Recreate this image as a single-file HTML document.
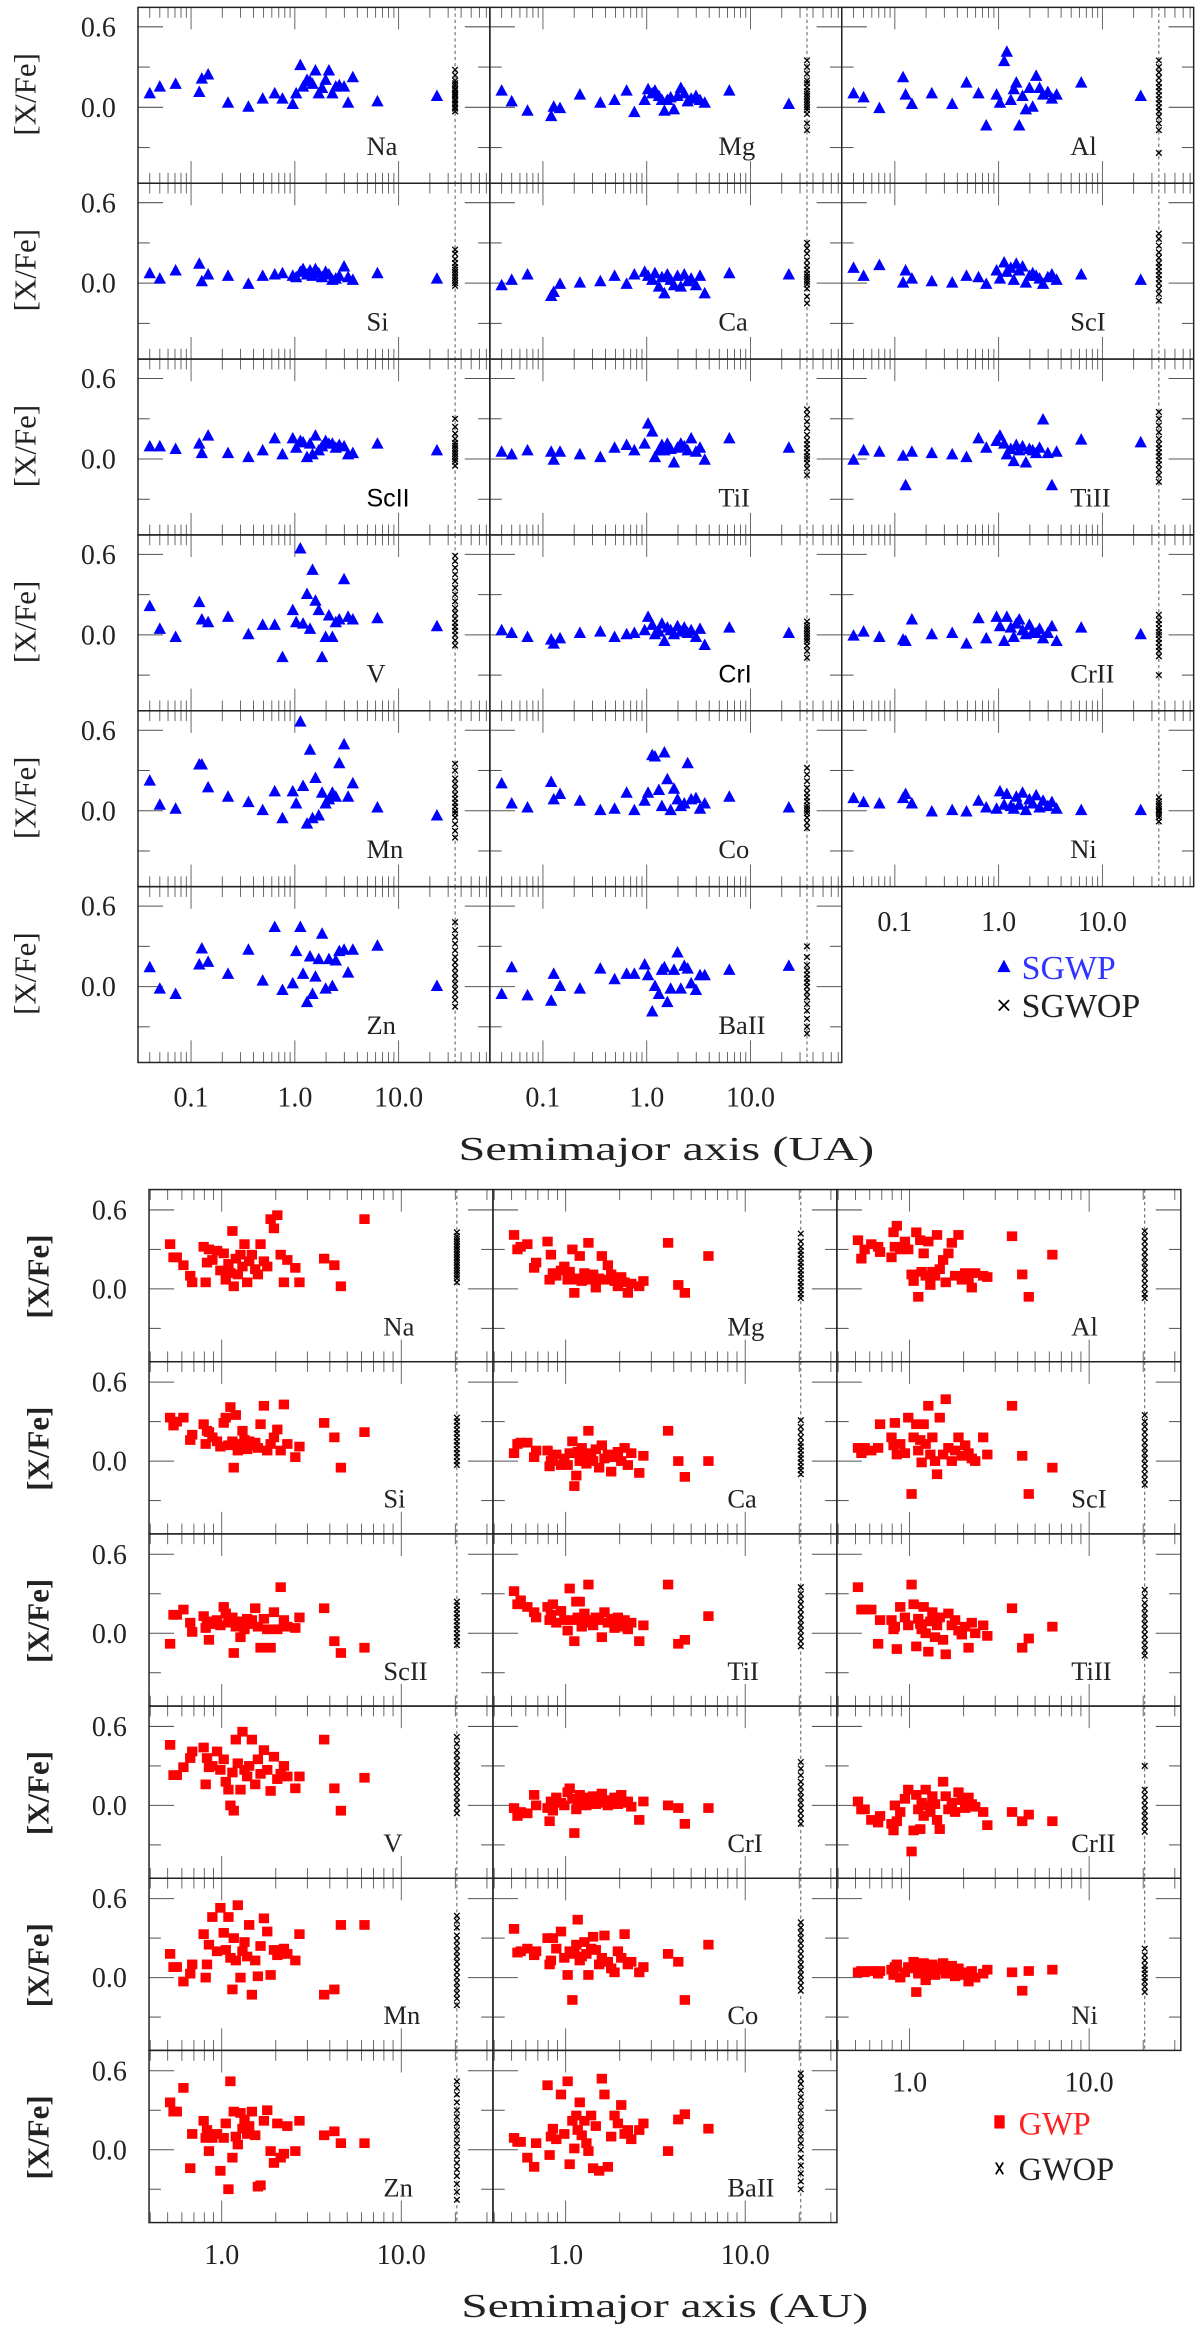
<!DOCTYPE html>
<html><head><meta charset="utf-8"><title>[X/Fe] vs semimajor axis</title>
<style>
html,body{margin:0;padding:0;background:#fff;}
svg{display:block;}
text{font-family:"Liberation Serif","DejaVu Serif",serif;fill:#222;}
</style></head>
<body>
<svg id="fig" xmlns="http://www.w3.org/2000/svg" width="1200" height="2329" viewBox="0 0 814 1580" preserveAspectRatio="none"></svg>
<script>
// ---------- TOP FIGURE DATA (SGWP / SGWOP), semimajor axis in UA ----------
const topElements = ['Na','Mg','Al','Si','Ca','ScI','ScII','TiI','TiII','V','CrI','CrII','Mn','Co','Ni','Zn','BaII'];
const topX = [0.040,0.050,0.071,0.12,0.127,0.146,0.227,0.357,0.49,0.64,0.76,0.955,1.03,1.13,1.20,1.31,1.40,1.48,1.58,1.70,1.83,1.98,2.13,2.30,2.48,2.68,2.98,3.26,3.62,6.25,23.4];
const tY_Na = [0.10,0.15,0.17,0.11,0.21,0.24,0.03,0.00,0.06,0.10,0.06,0.02,0.10,0.31,0.15,0.20,0.19,0.17,0.27,0.10,0.14,0.20,0.27,0.10,0.15,0.16,0.15,0.03,0.22,0.04,0.08];
const tY_Mg = [0.12,0.04,-0.03,-0.07,0.00,-0.01,0.09,0.03,0.05,0.12,-0.04,0.05,0.13,0.10,0.12,0.08,0.05,-0.03,0.05,0.07,-0.02,0.08,0.14,0.10,0.04,0.06,0.08,0.05,0.03,0.12,0.02];
const tY_Al = [0.10,0.07,-0.01,0.22,0.09,0.02,0.10,0.02,0.18,0.10,-0.14,0.09,0.03,0.34,0.41,0.05,0.13,0.18,-0.14,0.08,-0.02,0.14,0.00,0.23,0.14,0.09,0.11,0.06,0.09,0.18,0.08];
const tY_Si = [0.07,0.03,0.09,0.14,0.01,0.06,0.05,-0.01,0.05,0.06,0.07,0.05,0.04,0.08,0.10,0.06,0.09,0.05,0.10,0.07,0.04,0.08,0.06,0.02,0.03,0.05,0.12,0.04,0.02,0.07,0.03];
const tY_Ca = [-0.02,0.02,0.06,-0.10,-0.07,-0.01,0.00,0.01,0.05,-0.01,0.06,0.08,0.05,0.02,0.07,-0.03,0.04,-0.08,0.06,0.02,-0.02,0.05,-0.03,0.06,0.01,0.03,-0.02,0.05,-0.08,0.07,0.06];
const tY_ScI = [0.11,0.05,0.13,0.00,0.09,0.03,0.01,0.00,0.05,0.04,-0.01,0.09,0.03,0.15,0.08,0.11,0.02,0.14,0.09,0.12,0.00,0.05,0.07,0.05,0.03,-0.01,0.04,0.06,0.02,0.06,0.02];
const tY_ScII = [0.09,0.09,0.07,0.11,0.04,0.17,0.04,0.01,0.06,0.15,0.03,0.15,0.08,0.13,0.12,0.01,0.11,0.03,0.17,0.06,0.09,0.13,0.11,0.11,0.08,0.10,0.09,0.03,0.04,0.11,0.06];
const tY_TiI = [0.05,0.03,0.06,0.05,-0.01,0.05,0.03,0.01,0.08,0.10,0.06,0.11,0.26,0.20,0.01,0.06,0.10,0.06,0.11,0.07,-0.03,0.08,0.11,0.09,0.06,0.15,0.05,0.08,-0.01,0.15,0.08];
const tY_TiII = [-0.01,0.06,0.05,0.02,-0.20,0.05,0.04,0.03,0.01,0.15,0.08,0.13,0.17,0.11,0.03,0.07,-0.02,0.10,0.06,0.09,-0.03,0.07,0.06,0.04,0.08,0.29,0.04,-0.20,0.05,0.14,0.12];
const tY_V = [0.21,0.04,-0.02,0.24,0.11,0.09,0.13,0.00,0.07,0.07,-0.17,0.18,0.09,0.64,0.08,0.30,0.04,0.48,0.25,0.18,-0.17,-0.02,0.14,-0.02,0.09,0.11,0.41,0.13,0.11,0.12,0.06];
const tY_CrI = [0.03,0.01,-0.02,-0.04,-0.07,-0.03,0.01,0.02,-0.02,0.00,0.01,0.03,0.13,0.07,0.00,0.02,0.08,-0.05,0.05,0.03,0.00,0.06,0.02,0.05,0.01,0.03,-0.02,0.04,-0.08,0.05,0.01];
const tY_CrII = [-0.01,0.02,-0.02,-0.04,-0.05,0.11,0.00,0.01,-0.07,0.12,-0.03,0.13,0.06,-0.05,0.13,0.05,-0.02,0.08,0.11,0.03,0.00,0.07,0.02,0.01,0.04,-0.03,0.01,0.06,-0.05,0.05,0.00];
const tY_Mn = [0.22,0.04,0.01,0.34,0.34,0.17,0.10,0.06,0.00,0.14,-0.06,0.14,0.05,0.66,0.18,-0.10,0.45,-0.06,0.24,-0.04,0.13,0.05,0.08,0.13,0.10,0.35,0.49,0.10,0.20,0.02,-0.04];
const tY_Co = [0.20,0.05,0.02,0.21,0.08,0.12,0.07,0.00,0.01,0.13,0.00,0.07,0.13,0.41,0.40,0.15,0.03,0.43,0.23,0.00,0.16,0.08,0.03,0.05,0.35,0.08,0.09,0.01,0.05,0.10,0.02];
const tY_Ni = [0.09,0.06,0.05,0.09,0.12,0.05,-0.01,0.00,-0.01,0.07,0.02,0.01,0.14,0.04,0.12,0.03,0.01,0.10,0.04,0.13,0.00,0.08,0.05,0.11,0.02,0.07,0.03,0.06,0.01,0.00,0.00];
const tY_Zn = [0.14,-0.02,-0.06,0.16,0.28,0.18,0.09,0.27,0.04,0.44,-0.03,0.02,0.26,0.44,0.09,-0.12,0.22,-0.06,0.07,0.20,0.39,-0.02,0.20,0.00,0.19,0.26,0.27,0.10,0.27,0.30,0.00];
const tY_BaII = [-0.06,0.14,-0.07,-0.11,0.09,0.00,-0.02,0.13,0.05,0.09,0.09,0.16,0.08,-0.19,0.00,-0.06,0.12,0.14,-0.12,-0.02,0.12,0.25,-0.02,0.15,0.13,0.02,-0.03,0.08,0.08,0.12,0.15];
const topCrossA = 35;
const tC_Na=[-0.03,-0.01,0.0,0.02,0.03,0.05,0.06,0.08,0.09,0.1,0.11,0.13,0.14,0.16,0.18,0.2,0.24,0.28];
const tC_Mg=[-0.17,-0.12,-0.05,-0.02,0.0,0.02,0.04,0.06,0.08,0.1,0.12,0.15,0.18,0.2,0.25,0.3,0.35];
const tC_Al=[-0.34,-0.17,-0.12,-0.07,-0.03,0.0,0.03,0.06,0.09,0.12,0.15,0.18,0.22,0.26,0.3,0.35];
const tC_Si=[-0.02,0.0,0.02,0.04,0.06,0.08,0.1,0.12,0.15,0.18,0.22,0.25];
const tC_Ca=[-0.15,-0.1,-0.04,-0.01,0.01,0.03,0.05,0.07,0.1,0.13,0.17,0.22,0.26,0.3];
const tC_ScI=[-0.13,-0.08,-0.04,0.0,0.03,0.06,0.09,0.12,0.15,0.19,0.23,0.28,0.33,0.37];
const tC_ScII=[-0.05,-0.02,0.0,0.02,0.04,0.06,0.08,0.1,0.12,0.15,0.19,0.24,0.3];
const tC_TiI=[-0.12,-0.07,-0.03,0.0,0.02,0.05,0.08,0.11,0.14,0.18,0.23,0.28,0.33,0.37];
const tC_TiII=[-0.17,-0.12,-0.08,-0.04,-0.01,0.02,0.05,0.08,0.11,0.15,0.2,0.25,0.3,0.35];
const tC_V=[-0.08,-0.04,0.0,0.03,0.06,0.09,0.12,0.16,0.2,0.25,0.3,0.35,0.4,0.45,0.5,0.55,0.59];
const tC_CrI=[-0.17,-0.12,-0.08,-0.05,-0.03,-0.01,0.01,0.03,0.05,0.07,0.1];
const tC_CrII=[-0.3,-0.16,-0.12,-0.09,-0.06,-0.03,0.0,0.02,0.05,0.08,0.11,0.15];
const tC_Mn=[-0.2,-0.15,-0.1,-0.05,-0.02,0.0,0.03,0.06,0.09,0.12,0.16,0.2,0.24,0.3,0.35];
const tC_Co=[-0.13,-0.09,-0.05,-0.02,0.0,0.02,0.04,0.07,0.1,0.13,0.17,0.22,0.27,0.32];
const tC_Ni=[-0.08,-0.05,-0.03,-0.01,0.0,0.01,0.03,0.05,0.07,0.1];
const tC_Zn=[-0.15,-0.1,-0.06,-0.02,0.02,0.06,0.1,0.14,0.18,0.22,0.27,0.32,0.37,0.42,0.48];
const tC_BaII=[-0.35,-0.3,-0.24,-0.18,-0.13,-0.08,-0.04,0.0,0.03,0.06,0.09,0.12,0.16,0.22,0.3];
const topTickVals = [0.1, 1, 10];
const topTickLabels = ['0.1','1.0','10.0'];

// ---------- BOTTOM FIGURE DATA (GWP / GWOP), semimajor axis in AU ----------
const botX = [0.516,0.539,0.562,0.612,0.668,0.685,0.793,0.814,0.828,0.849,0.887,0.942,0.983,1.026,1.053,1.090,1.118,1.147,1.167,1.198,1.229,1.272,1.305,1.339,1.386,1.422,1.472,1.537,1.590,1.645,1.718,1.793,1.872,1.954,2.04,2.13,2.22,2.32,2.57,2.71,3.72,4.24,4.61,6.24];
const bY_Na = [0.34,0.24,0.24,0.18,0.10,0.05,0.32,0.05,0.20,0.30,0.22,0.29,0.14,0.27,0.07,0.19,0.12,0.44,0.02,0.23,0.11,0.26,0.17,0.34,0.05,0.21,0.26,0.15,0.11,0.34,0.21,0.17,0.53,0.46,0.56,0.26,0.05,0.22,0.16,0.05,0.23,0.18,0.02,0.53];
const bY_Mg = [0.41,0.30,0.32,0.34,0.16,0.20,0.36,0.07,0.26,0.12,0.10,0.14,0.17,0.07,0.13,0.30,-0.03,0.07,0.08,0.25,0.06,0.12,0.10,0.35,0.07,0.11,0.01,0.08,0.25,0.07,0.18,0.11,0.06,0.02,0.09,0.05,-0.03,0.04,0.02,0.06,0.35,0.03,-0.03,0.25];
const bY_Al = [0.37,0.23,0.30,0.34,0.32,0.28,0.24,0.43,0.32,0.48,0.30,0.36,0.30,0.11,0.06,0.43,-0.06,0.37,0.13,0.27,0.10,0.36,0.03,0.13,0.10,0.41,0.15,0.22,0.05,0.27,0.35,0.10,0.41,0.07,0.12,0.08,0.01,0.12,0.10,0.09,0.40,0.11,-0.06,0.26];
const bY_Si = [0.33,0.27,0.30,0.33,0.16,0.20,0.28,0.13,0.23,0.22,0.18,0.15,0.11,0.29,0.33,0.12,0.41,0.15,-0.05,0.35,0.08,0.13,0.23,0.16,0.09,0.15,0.12,0.14,0.10,0.28,0.42,0.08,0.13,0.18,0.24,0.08,0.43,0.13,0.03,0.11,0.29,0.18,-0.05,0.22];
const bY_Ca = [0.06,0.13,0.14,0.14,0.03,0.08,0.08,-0.04,0.00,0.03,0.05,-0.03,0.02,-0.03,0.06,0.15,-0.19,-0.11,0.07,0.00,0.10,0.04,-0.02,0.23,0.06,0.00,0.09,-0.05,0.12,0.02,0.05,-0.08,0.03,0.07,0.00,0.10,-0.03,0.06,-0.09,0.04,0.23,0.00,-0.12,0.00];
const bY_ScI = [0.10,0.06,0.10,0.08,0.10,0.28,0.18,0.12,0.29,0.05,0.13,0.06,0.33,-0.25,0.18,0.28,0.08,0.16,-0.01,0.28,0.13,0.42,0.05,0.18,0.00,-0.10,0.33,0.05,0.47,0.10,0.00,0.08,0.18,0.04,0.12,0.06,0.02,0.00,0.18,0.05,0.42,0.04,-0.25,-0.05];
const bY_ScII = [-0.08,0.14,0.14,0.18,0.08,0.01,0.13,0.04,0.09,-0.05,0.07,0.10,0.06,0.20,0.15,0.08,0.10,0.12,-0.15,0.05,0.09,-0.03,0.08,0.03,0.11,0.07,0.10,0.19,0.05,-0.11,0.11,0.03,-0.11,0.16,0.03,0.35,0.10,0.05,0.04,0.12,0.19,-0.06,-0.15,-0.11];
const bY_TiI = [0.32,0.22,0.25,0.20,0.16,0.12,0.20,0.10,0.14,0.22,0.08,0.17,0.10,0.02,0.34,0.10,-0.06,0.24,0.12,0.24,0.05,0.15,0.08,0.37,0.10,0.06,0.12,0.10,-0.03,0.16,0.08,0.11,0.04,0.12,0.05,0.10,0.03,0.08,-0.06,0.06,0.37,-0.08,-0.05,0.13];
const bY_TiII = [0.35,0.18,0.18,0.18,-0.08,0.10,0.10,0.03,0.05,-0.12,0.20,0.12,0.06,0.37,0.22,-0.10,0.11,0.07,0.03,0.20,0.00,-0.14,0.09,0.16,-0.03,0.06,0.12,-0.05,-0.16,0.15,0.06,0.10,0.02,-0.01,0.05,-0.11,0.08,0.00,0.06,-0.02,0.19,-0.11,-0.04,0.05];
const bY_V = [0.46,0.23,0.23,0.29,0.36,0.41,0.44,0.16,0.36,0.29,0.30,0.41,0.27,0.35,0.18,0.12,0.00,0.25,-0.04,0.50,0.32,0.12,0.56,0.27,0.22,0.30,0.50,0.16,0.35,0.24,0.42,0.27,0.11,0.37,0.20,0.24,0.30,0.22,0.13,0.22,0.50,0.13,-0.04,0.21];
const bY_CrI = [-0.02,-0.08,-0.05,-0.06,0.08,0.00,-0.02,-0.12,0.03,-0.04,0.06,0.02,0.00,0.10,0.13,0.05,-0.21,-0.03,0.04,0.08,0.02,0.06,0.00,0.04,0.03,0.07,0.01,0.05,0.09,0.02,0.00,0.04,0.06,0.01,0.08,0.02,0.03,-0.01,-0.11,0.03,0.00,-0.02,-0.14,-0.02];
const bY_CrII = [0.03,-0.03,-0.03,-0.11,-0.13,-0.08,-0.14,-0.19,0.00,-0.12,-0.05,0.05,0.12,-0.35,-0.19,0.08,-0.03,-0.18,0.02,-0.08,0.12,0.00,-0.05,0.07,0.01,-0.11,-0.18,0.18,0.07,-0.03,0.02,-0.05,0.10,0.04,-0.02,0.06,0.01,-0.01,-0.05,-0.15,-0.05,-0.12,-0.07,-0.12];
const bY_Mn = [0.18,0.08,0.08,-0.03,0.03,0.10,0.33,0.00,0.10,0.25,0.46,0.20,0.53,0.34,0.21,0.46,0.15,-0.09,0.30,0.13,0.55,0.00,0.20,0.27,0.16,0.40,-0.13,0.13,0.01,0.24,0.45,0.35,0.02,0.21,0.17,0.18,0.22,0.18,0.13,0.33,-0.13,-0.09,0.40,0.40];
const bY_Co = [0.37,0.19,0.20,0.22,0.17,0.20,0.30,0.10,0.13,0.30,0.22,0.35,0.15,0.02,0.20,-0.17,0.18,0.25,0.44,0.13,0.16,0.27,0.18,0.02,0.22,0.31,0.21,0.10,0.15,0.32,0.12,0.07,0.04,0.20,0.15,0.33,0.10,0.12,0.04,0.08,0.18,0.12,-0.17,0.25];
const bY_Ni = [0.04,0.05,0.04,0.05,0.03,0.05,0.06,0.02,0.08,0.10,0.00,0.04,0.08,0.07,0.12,-0.11,0.03,0.09,0.05,0.11,-0.02,0.07,0.04,0.10,0.02,0.08,0.06,0.11,0.03,0.05,0.09,0.01,0.07,0.04,0.02,-0.03,0.05,0.00,0.03,0.06,0.04,-0.10,0.05,0.06];
const bY_Zn = [0.36,0.29,0.29,0.47,-0.14,0.12,0.22,0.09,0.15,-0.01,0.09,0.12,-0.16,0.09,0.20,-0.30,0.52,-0.06,0.29,0.10,0.04,0.28,0.16,0.23,0.12,0.18,0.29,0.11,-0.28,-0.27,0.22,0.30,-0.01,-0.10,0.20,-0.06,-0.03,0.18,-0.01,0.22,0.11,0.14,0.05,0.05];
const bY_BaII = [0.09,0.06,0.06,-0.06,-0.13,0.05,0.49,-0.04,0.10,0.16,0.08,0.42,0.12,0.52,-0.11,0.22,0.01,0.26,0.15,0.36,0.11,0.22,0.05,-0.01,0.26,-0.14,0.18,-0.16,0.54,0.42,-0.13,0.10,0.26,0.20,0.34,0.12,0.15,0.08,0.15,0.20,-0.01,0.23,0.27,0.16];
const botCrossA = 20.4;
const bC_Na=[0.05,0.08,0.1,0.12,0.14,0.16,0.18,0.2,0.22,0.24,0.26,0.28,0.3,0.32,0.34,0.36,0.38,0.4,0.43];
const bC_Mg=[-0.07,-0.04,-0.01,0.02,0.05,0.08,0.11,0.14,0.17,0.2,0.23,0.26,0.29,0.32,0.36,0.42];
const bC_Al=[-0.07,-0.04,0.0,0.04,0.08,0.12,0.16,0.2,0.24,0.28,0.32,0.36,0.4,0.44];
const bC_Si=[-0.03,0.0,0.03,0.06,0.09,0.12,0.15,0.18,0.21,0.24,0.27,0.3,0.33];
const bC_Ca=[-0.1,-0.07,-0.04,-0.01,0.02,0.05,0.08,0.11,0.14,0.18,0.22,0.26,0.31];
const bC_ScI=[-0.18,-0.14,-0.1,-0.06,-0.02,0.02,0.06,0.1,0.14,0.18,0.22,0.26,0.3,0.35];
const bC_ScII=[-0.09,-0.06,-0.03,0.0,0.03,0.06,0.09,0.12,0.15,0.18,0.21,0.24];
const bC_TiI=[-0.1,-0.06,-0.02,0.02,0.06,0.1,0.14,0.18,0.22,0.26,0.3,0.35];
const bC_TiII=[-0.17,-0.13,-0.09,-0.05,-0.01,0.03,0.07,0.11,0.15,0.19,0.23,0.28,0.33];
const bC_V=[-0.06,-0.02,0.02,0.06,0.1,0.14,0.18,0.22,0.26,0.3,0.34,0.38,0.42,0.47,0.52];
const bC_CrI=[-0.14,-0.1,-0.06,-0.02,0.02,0.06,0.1,0.14,0.18,0.23,0.28,0.33];
const bC_CrII=[-0.2,-0.16,-0.12,-0.08,-0.04,0.0,0.04,0.08,0.12,0.3];
const bC_Mn=[-0.21,-0.16,-0.12,-0.08,-0.04,0.0,0.04,0.08,0.12,0.16,0.2,0.24,0.28,0.32,0.38,0.43,0.47];
const bC_Co=[-0.1,-0.06,-0.02,0.02,0.06,0.1,0.14,0.18,0.22,0.26,0.3,0.34,0.38,0.42];
const bC_Ni=[-0.11,-0.07,-0.03,0.0,0.03,0.06,0.09,0.13,0.17,0.22];
const bC_Zn=[-0.38,-0.32,-0.26,-0.2,-0.15,-0.1,-0.05,0.0,0.05,0.1,0.15,0.2,0.25,0.3,0.36,0.42,0.47,0.52];
const bC_BaII=[-0.3,-0.24,-0.18,-0.12,-0.06,0.0,0.05,0.1,0.15,0.2,0.25,0.3,0.35,0.4,0.45,0.5,0.54,0.58];
const botTickVals = [1, 10];
const botTickLabels = ['1.0','10.0'];
const yTickVals = [-0.3, 0.0, 0.3, 0.6];
const yTickLabelVals = [0.6, 0.0];
const yTickLabels = ['0.6','0.0'];

const topY = [tY_Na,tY_Mg,tY_Al,tY_Si,tY_Ca,tY_ScI,tY_ScII,tY_TiI,tY_TiII,tY_V,tY_CrI,tY_CrII,tY_Mn,tY_Co,tY_Ni,tY_Zn,tY_BaII];
const topC = [tC_Na,tC_Mg,tC_Al,tC_Si,tC_Ca,tC_ScI,tC_ScII,tC_TiI,tC_TiII,tC_V,tC_CrI,tC_CrII,tC_Mn,tC_Co,tC_Ni,tC_Zn,tC_BaII];
const botY = [bY_Na,bY_Mg,bY_Al,bY_Si,bY_Ca,bY_ScI,bY_ScII,bY_TiI,bY_TiII,bY_V,bY_CrI,bY_CrII,bY_Mn,bY_Co,bY_Ni,bY_Zn,bY_BaII];
const botC = [bC_Na,bC_Mg,bC_Al,bC_Si,bC_Ca,bC_ScI,bC_ScII,bC_TiI,bC_TiII,bC_V,bC_CrI,bC_CrII,bC_Mn,bC_Co,bC_Ni,bC_Zn,bC_BaII];

const NS = 'http://www.w3.org/2000/svg';
const svg = document.getElementById('fig');
function mk(tag, attrs, parent) {
  const e = document.createElementNS(NS, tag);
  for (const k in attrs) e.setAttribute(k, attrs[k]);
  (parent || svg).appendChild(e);
  return e;
}

const TOP = {L:93.6, W:238.7, T:5, H:119.3, xoff:36, dec:70.4, logRef:-1, yoff:67.8, yunit:91, crossA:topCrossA, name:'sgwp'};
const BOT = {L:101.1, W:233.3, T:807, H:116.8, xoff:49.3, dec:121.8, logRef:0, yoff:67.4, yunit:89.3, crossA:botCrossA, name:'gwp'};

function xScale(f, col, a) { return f.L + col*f.W + f.xoff + (Math.log10(a) - f.logRef)*f.dec; }
function yScale(f, row, v) { return f.T + row*f.H + f.yoff - v*f.yunit; }

function drawPanel(f, idx, elem, ys, cs, isTop) {
  const col = idx % 3, row = Math.floor(idx / 3);
  const x0 = f.L + col*f.W, y0 = f.T + row*f.H;
  const g = mk('g', {});
  
  
  const lmin = f.logRef - f.xoff/f.dec, lmax = lmin + f.W/f.dec;
  for (let d = Math.floor(lmin); d <= Math.ceil(lmax); d++) {
    for (let m = 1; m <= 9; m++) {
      const v = m * Math.pow(10, d), lv = Math.log10(v);
      if (lv <= lmin + 0.005 || lv >= lmax - 0.005) continue;
      const x = xScale(f, col, v), len = (m === 1) ? 15 : 7;
      mk('line', {x1:x, y1:y0+f.H, x2:x, y2:y0+f.H-len, stroke:'#555', 'stroke-width':0.6}, g);
      mk('line', {x1:x, y1:y0, x2:x, y2:y0+len, stroke:'#555', 'stroke-width':0.6}, g);
    }
  }
  yTickVals.forEach(v => {
    const y = yScale(f, row, v), len = (v === 0 || v === 0.6) ? 17 : 8;
    mk('line', {x1:x0, y1:y, x2:x0+len, y2:y, stroke:'#555', 'stroke-width':0.7}, g);
    mk('line', {x1:x0+f.W, y1:y, x2:x0+f.W-len, y2:y, stroke:'#555', 'stroke-width':0.7}, g);
  });
  const xd = xScale(f, col, f.crossA);
  mk('line', {x1:xd, y1:y0, x2:xd, y2:y0+f.H, stroke:'#444', 'stroke-width':0.6, 'stroke-dasharray':'2.2,2'}, g);
  const fr = mk('rect', {x:x0, y:y0, width:f.W, height:f.H, fill:'none', stroke:'#222', 'stroke-width':1}, g);
  
  
  cs.forEach(v => {
    const y = yScale(f, row, v);
    const p = mk('path', {d:`M${xd-1.9},${y-1.9}L${xd+1.9},${y+1.9}M${xd-1.9},${y+1.9}L${xd+1.9},${y-1.9}`, stroke:'#000', 'stroke-width':0.9, fill:'none'}, g);
    
    
  });
  const xs = isTop ? topX : botX;
  const n = Math.min(xs.length, ys.length);
  for (let i = 0; i < n; i++) {
    const x = xScale(f, col, xs[i]), y = yScale(f, row, ys[i]);
    let p;
    if (isTop) {
      p = mk('path', {d:`M${x},${y-4.8}L${x-4.2},${y+3}L${x+4.2},${y+3}Z`, fill:'#0000ff'}, g);
      
    } else {
      p = mk('rect', {x:x-3.5, y:y-3.3, width:7, height:6.6, fill:'#ff0000'}, g);
      
    }
    
  }
  const sans = isTop && (elem === 'ScII' || elem === 'CrI');
  const t = mk('text', {x:x0 + (isTop ? 155 : 159), y:y0 + (isTop ? 100 : 99), 'font-size': sans ? 17 : 18}, g);
  if (sans) { t.setAttribute('style', 'font-family:"Liberation Sans",sans-serif;fill:#000'); }
  t.textContent = elem;
  
  
  if (col === 0) {
    yTickLabelVals.forEach((v, k) => {
      const tl = mk('text', {x:x0-15, y:yScale(f,row,v)+6.5, 'font-size':19, 'text-anchor':'end'}, g);
      tl.textContent = yTickLabels[k];
      
      
    });
    const yl = mk('text', {x:0, y:0, 'font-size':21, 'text-anchor':'middle',
      transform:`translate(${isTop ? 24 : 33},${y0+59}) rotate(-90)`}, g);
    if (!isTop) yl.setAttribute('font-weight', 'bold');
    yl.textContent = '[X/Fe]';
    
    
  }
  const lastRow = (col === 2) ? 4 : 5;
  if (row === lastRow) {
    const vals = isTop ? topTickVals : botTickVals, labs = isTop ? topTickLabels : botTickLabels;
    vals.forEach((v, k) => {
      const tl = mk('text', {x:xScale(f,col,v), y:y0+f.H+(isTop ? 30 : 28), 'font-size':19, 'text-anchor':'middle'}, g);
      tl.textContent = labs[k];
      
      
    });
  }
}

topElements.forEach((el, i) => drawPanel(TOP, i, el, topY[i], topC[i], true));
topElements.forEach((el, i) => drawPanel(BOT, i, el, botY[i], botC[i], false));

const t1 = mk('text', {x:311, y:787, 'font-size':23, textLength:282, lengthAdjust:'spacingAndGlyphs'});
t1.textContent = 'Semimajor axis (UA)';


const t2 = mk('text', {x:313, y:1572, 'font-size':23, textLength:276, lengthAdjust:'spacingAndGlyphs'});
t2.textContent = 'Semimajor axis (AU)';



const lg1 = mk('g', {});


mk('path', {d:'M681,651L676.5,659.5L685.5,659.5Z', fill:'#0000ff'}, lg1);
const l1 = mk('text', {x:693, y:664, 'font-size':23, style:'fill:#3333ff'}, lg1);
l1.textContent = 'SGWP';


mk('path', {d:'M677.5,678.5L684.5,685.5M677.5,685.5L684.5,678.5', stroke:'#000', 'stroke-width':1.2}, lg1);
const l2 = mk('text', {x:693, y:690, 'font-size':23}, lg1);
l2.textContent = 'SGWOP';



const lg2 = mk('g', {});


mk('rect', {x:674.5, y:1435, width:7, height:9, fill:'#ff0000'}, lg2);
const l3 = mk('text', {x:691, y:1448, 'font-size':22, style:'fill:#ff2222'}, lg2);
l3.textContent = 'GWP';


mk('path', {d:'M675.5,1467L680.5,1475M675.5,1475L680.5,1467', stroke:'#000', 'stroke-width':1.2}, lg2);
const l4 = mk('text', {x:691, y:1479, 'font-size':22}, lg2);
l4.textContent = 'GWOP';


</script>
</body></html>
